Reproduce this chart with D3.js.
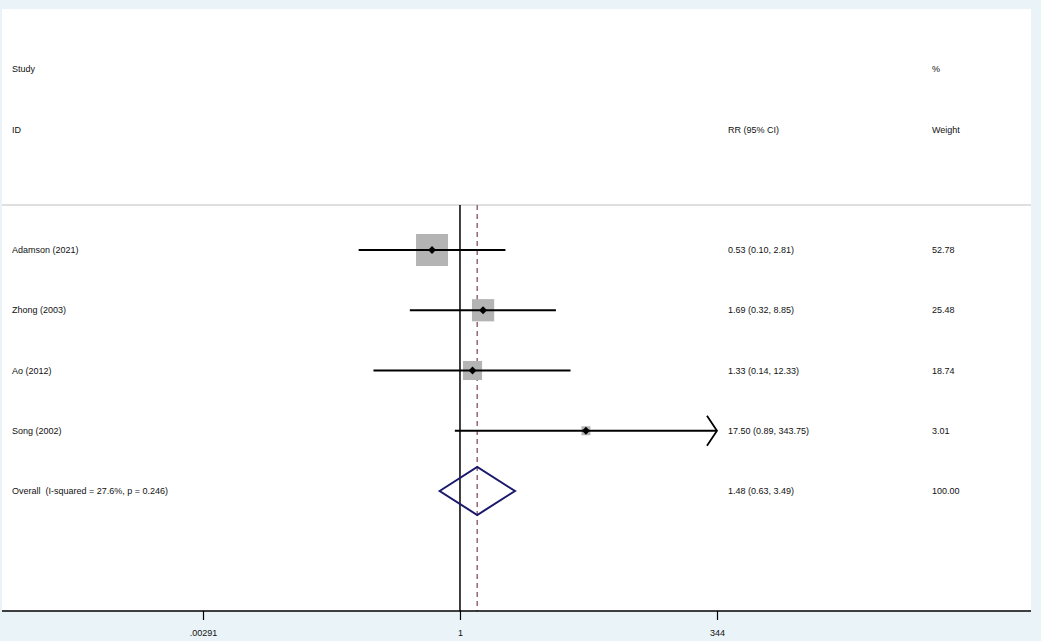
<!DOCTYPE html>
<html>
<head>
<meta charset="utf-8">
<script src="https://cdn.jsdelivr.net/npm/d3@7"></script>
<style>
  html, body { margin: 0; padding: 0; background: #eaf3f7; }
  svg { display: block; }
  text { font-family: "Liberation Sans", Arial, sans-serif; font-size: 9px; fill: #111; white-space: pre; }
</style>
</head>
<body>
<div id="chart"></div>
<script>
// study data
const studies = ['Adamson (2021)', 'Zhong (2003)', 'Ao (2012)', 'Song (2002)'];
const rr = [0.53, 1.69, 1.33, 17.50];
const lower = [0.10, 0.32, 0.14, 0.89];
const upper = [2.81, 8.85, 12.33, 343.75];
const weights = [52.78, 25.48, 18.74, 3.01];

const overallLabel = 'Overall  (I-squared = 27.6%, p = 0.246)';
const overall = { rr: 1.48, lower: 0.63, upper: 3.49, weight: 100.00 };

const axisTicks = [0.00291, 1, 344];
const axisLabels = ['.00291', '1', '344'];

const width = 1041, height = 641;
const panel = { left: 2, right: 1031, top: 9, bottom: 611 };

const svg = d3.select('#chart').append('svg')
    .attr('width', width)
    .attr('height', height);

// white plot region
svg.append('rect')
    .attr('x', panel.left).attr('y', panel.top)
    .attr('width', panel.right - panel.left)
    .attr('height', panel.bottom - panel.top)
    .attr('fill', '#fff');

// log x scale
const x = d3.scaleLog()
    .domain([0.00291, 344])
    .range([203, 717]);

// rows: 4 studies + overall
const rowIdx = d3.range(studies.length + 1);
const y = d3.scalePoint()
    .domain(rowIdx)
    .range([250, 491]);

const boxSize = d3.scaleSqrt()
    .domain([0, d3.max(weights)])
    .range([0, 32]);

const fmt = d3.format('.2f');
const ciText = (m, l, u) => `${fmt(m)} (${fmt(l)}, ${fmt(u)})`;

// header text
const colStudy = 12, colRR = 728, colW = 932;
svg.append('text').attr('x', colStudy).attr('y', 72).text('Study');
svg.append('text').attr('x', colStudy).attr('y', 133).text('ID');
svg.append('text').attr('x', colRR).attr('y', 133).text('RR (95% CI)');
svg.append('text').attr('x', colW).attr('y', 72).text('%');
svg.append('text').attr('x', colW).attr('y', 133).text('Weight');

// separator
svg.append('line')
    .attr('x1', panel.left).attr('x2', panel.right)
    .attr('y1', 205).attr('y2', 205)
    .attr('stroke', '#d4d4d4').attr('stroke-width', 1.5);

// null line at 1
svg.append('line')
    .attr('x1', x(1)).attr('x2', x(1))
    .attr('y1', 205).attr('y2', panel.bottom)
    .attr('stroke', '#000').attr('stroke-width', 1.5);

// overall effect dashed line
svg.append('line')
    .attr('x1', x(overall.rr)).attr('x2', x(overall.rr))
    .attr('y1', 205).attr('y2', panel.bottom)
    .attr('stroke', '#9c6478').attr('stroke-width', 1.5)
    .attr('stroke-dasharray', '5,4');

const g = svg.append('g');

studies.forEach((s, i) => {
    const cy = y(i);
    const sz = Math.max(boxSize(weights[i]), 9);
    // weight box
    g.append('rect')
        .attr('x', x(rr[i]) - sz / 2).attr('y', cy - sz / 2)
        .attr('width', sz).attr('height', sz)
        .attr('fill', '#b4b4b4');

    // CI line, clipped with arrow if beyond axis
    const maxX = x.domain()[1];
    const hi = Math.min(upper[i], maxX);
    g.append('line')
        .attr('x1', x(lower[i])).attr('x2', x(hi))
        .attr('y1', cy).attr('y2', cy)
        .attr('stroke', '#000').attr('stroke-width', 2);
    if (upper[i] >= maxX * 0.99) {
        const tip = x(hi);
        g.append('path')
            .attr('d', `M${tip - 10},${cy - 15}L${tip},${cy}L${tip - 10},${cy + 15}`)
            .attr('fill', 'none').attr('stroke', '#000').attr('stroke-width', 1.8);
    }

    // point estimate
    g.append('path')
        .attr('d', d3.symbol(d3.symbolDiamond2, 40)())
        .attr('transform', `translate(${x(rr[i])},${cy})`)
        .attr('fill', '#000');

    svg.append('text').attr('x', colStudy).attr('y', cy + 3).text(s);
    svg.append('text').attr('x', colRR).attr('y', cy + 3).text(ciText(rr[i], lower[i], upper[i]));
    svg.append('text').attr('x', colW).attr('y', cy + 3).text(fmt(weights[i]));
});

// overall diamond
const oy = y(studies.length);
g.append('path')
    .attr('d', `M${x(overall.lower)},${oy}L${x(overall.rr)},${oy - 24}L${x(overall.upper)},${oy}L${x(overall.rr)},${oy + 24}Z`)
    .attr('fill', 'none').attr('stroke', '#1a1a6b').attr('stroke-width', 2);
svg.append('text').attr('x', colStudy).attr('y', oy + 3).text(overallLabel);
svg.append('text').attr('x', colRR).attr('y', oy + 3).text(ciText(overall.rr, overall.lower, overall.upper));
svg.append('text').attr('x', colW).attr('y', oy + 3).text(fmt(overall.weight));

// x axis
const axis = d3.axisBottom(x)
    .tickValues(axisTicks)
    .tickFormat((d, i) => axisLabels[i])
    .tickSize(9)
    .tickPadding(10);

const ax = svg.append('g')
    .attr('transform', `translate(0,${panel.bottom})`)
    .call(axis);
ax.select('.domain').remove();
ax.selectAll('.tick line').attr('stroke', '#000').attr('stroke-width', 1.2);
ax.selectAll('.tick text').style('font-size', '9px')
    .style('font-family', '"Liberation Sans", Arial, sans-serif');
svg.append('line')
    .attr('x1', panel.left).attr('x2', panel.right)
    .attr('y1', panel.bottom).attr('y2', panel.bottom)
    .attr('stroke', '#000').attr('stroke-width', 1.5);
</script>
</body>
</html>
